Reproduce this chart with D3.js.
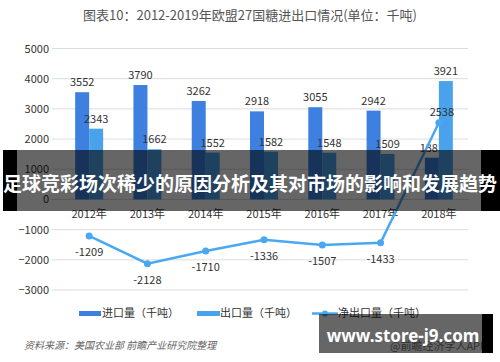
<!DOCTYPE html>
<html>
<head>
<meta charset="utf-8">
<script src="https://cdn.jsdelivr.net/npm/d3@7"></script>
<style>
  body { margin: 0; background: #fff; }
  svg { display: block; font-family: "Noto Sans CJK SC", "Noto Sans", sans-serif; }
</style>
</head>
<body>
<div id="chart"></div>
<script>
// data
var years = ['2012年', '2013年', '2014年', '2015年', '2016年', '2017年', '2018年'];
var imports = [3552, 3790, 3262, 2918, 3055, 2942, 1383];
var exports = [2343, 1662, 1552, 1582, 1548, 1509, 3921];
var netExports = [-1209, -2128, -1710, -1336, -1507, -1433, 2538];
var yTicks = [5000, 4000, 3000, 2000, 1000, 0, -1000, -2000, -3000];

var width = 500, height = 362;
var import_color = '#3d80e0';
var export_color = '#4aa2ec';
var line_color = '#4aa8f2';
var text_color = '#333';

var svg = d3.select('#chart').append('svg')
  .attr('width', width)
  .attr('height', height);

svg.append('rect').attr('width', width).attr('height', height).attr('fill', '#fff');

// title
svg.append('text')
  .attr('x', 250).attr('y', 20)
  .attr('text-anchor', 'middle')
  .style('font-size', '13px')
  .style('fill', '#555')
  .text('图表10：2012-2019年欧盟27国糖进出口情况(单位：千吨)');

var x = d3.scaleBand().domain(years).range([60, 468]).paddingInner(0.52).paddingOuter(0.26);
var y = d3.scaleLinear().domain([-3000, 5000]).range([290, 48.5]);
var sub = d3.scaleBand().domain(['imp', 'exp']).range([0, x.bandwidth()]);

// grid lines
svg.append('g').selectAll('line')
  .data(yTicks)
  .enter().append('line')
  .attr('x1', 52).attr('x2', 468)
  .attr('y1', function(d){ return y(d); })
  .attr('y2', function(d){ return y(d); })
  .attr('stroke', '#dcdcdc')
  .attr('stroke-width', 1);

// y axis labels
var yAxis = svg.append('g')
  .attr('transform', 'translate(49,0)')
  .call(d3.axisLeft(y).tickValues(yTicks).tickSize(0).tickPadding(0).tickFormat(d3.format('d')));
yAxis.select('.domain').remove();
yAxis.selectAll('text').style('font-size', '11px').style('fill', text_color)
  .style('font-family', '"Noto Sans CJK SC", sans-serif');

// bars
function drawBars(values, key, color){
  var g = svg.append('g');
  g.selectAll('rect')
    .data(values)
    .enter().append('rect')
    .attr('x', function(d, i){ return x(years[i]) + sub(key); })
    .attr('width', sub.bandwidth())
    .attr('y', function(d){ return y(d); })
    .attr('height', function(d){ return y(0) - y(d); })
    .attr('fill', color);
  g.selectAll('text')
    .data(values)
    .enter().append('text')
    .attr('x', function(d, i){ return x(years[i]) + sub(key) + sub.bandwidth() / 2; })
    .attr('y', function(d){ return y(d) - 6; })
    .attr('text-anchor', 'middle')
    .style('font-size', '11px')
    .style('fill', text_color)
    .text(function(d){ return d; });
}
drawBars(imports, 'imp', import_color);
drawBars(exports, 'exp', export_color);

// category labels
svg.append('g').selectAll('text')
  .data(years)
  .enter().append('text')
  .attr('x', function(d){ return x(d) + x.bandwidth() / 2; })
  .attr('y', y(0) + 19)
  .attr('text-anchor', 'middle')
  .style('font-size', '11px')
  .style('fill', text_color)
  .text(function(d){ return d; });

// net export line
var cx = function(d, i){ return x(years[i]) + x.bandwidth() / 2; };
svg.append('path')
  .datum(netExports)
  .attr('fill', 'none')
  .attr('stroke', line_color)
  .attr('stroke-width', 2.5)
  .attr('d', d3.line().x(cx).y(function(d){ return y(d); }));

svg.append('g').selectAll('circle')
  .data(netExports)
  .enter().append('circle')
  .attr('cx', cx)
  .attr('cy', function(d){ return y(d); })
  .attr('r', 3.5)
  .attr('fill', line_color);

svg.append('g').selectAll('text')
  .data(netExports)
  .enter().append('text')
  .attr('x', function(d, i){ return cx(d, i) + (d > 0 ? 3 : 0); })
  .attr('y', function(d){ return d > 0 ? y(d) - 7 : y(d) + 20; })
  .attr('text-anchor', 'middle')
  .style('font-size', '11px')
  .style('fill', text_color)
  .text(function(d){ return d; });

// legend
var legend_y = 313;
var legend = svg.append('g').style('font-size', '11px').style('fill', text_color);
legend.append('rect').attr('x', 79).attr('y', legend_y - 2).attr('width', 22).attr('height', 5).attr('fill', import_color);
legend.append('text').attr('x', 102).attr('y', legend_y + 4).text('进口量（千吨）');
legend.append('rect').attr('x', 197).attr('y', legend_y - 2).attr('width', 23).attr('height', 5).attr('fill', export_color);
legend.append('text').attr('x', 220).attr('y', legend_y + 4).text('出口量（千吨）');
legend.append('line').attr('x1', 312).attr('x2', 338).attr('y1', legend_y + 0.5).attr('y2', legend_y + 0.5)
  .attr('stroke', line_color).attr('stroke-width', 2.5);
legend.append('circle').attr('cx', 325).attr('cy', legend_y + 0.5).attr('r', 3).attr('fill', line_color);
legend.append('text').attr('x', 338).attr('y', legend_y + 4).text('净出口量（千吨）');

// source
svg.append('text')
  .attr('x', 24).attr('y', 349)
  .style('font-size', '10px')
  .style('font-style', 'italic')
  .style('fill', '#666')
  .text('资料来源：美国农业部 前瞻产业研究院整理');

svg.append('text')
  .attr('x', 390).attr('y', 350)
  .style('font-size', '11px')
  .style('fill', '#777')
  .text('@前瞻经济学人APP');

// overlay banner
svg.append('rect').attr('x', 3).attr('y', 150).attr('width', 14).attr('height', 61).attr('fill', '#000');
svg.append('rect').attr('x', 17).attr('y', 150).attr('width', 464).attr('height', 61).attr('fill', 'rgba(0,0,0,0.6)');
svg.append('rect').attr('x', 481).attr('y', 150).attr('width', 19).attr('height', 61).attr('fill', '#000');
svg.append('text')
  .attr('x', 250).attr('y', 191)
  .attr('text-anchor', 'middle')
  .style('font-size', '19px')
  .style('font-weight', 'bold')
  .style('fill', '#fff')
  .text('足球竞彩场次稀少的原因分析及其对市场的影响和发展趋势');

// site box bottom-right
svg.append('rect').attr('x', 319).attr('y', 314).attr('width', 163).attr('height', 39).attr('fill', 'rgba(0,0,0,0.6)');
svg.append('rect').attr('x', 482).attr('y', 314).attr('width', 11).attr('height', 39).attr('fill', '#000');
svg.append('text')
  .attr('x', 403).attr('y', 342)
  .attr('text-anchor', 'middle')
  .style('font-family', '"Noto Sans", sans-serif')
  .style('font-size', '17px')
  .style('font-weight', 'bold')
  .style('fill', '#fff')
  .text('www.store-j9.com');
</script>
</body>
</html>
